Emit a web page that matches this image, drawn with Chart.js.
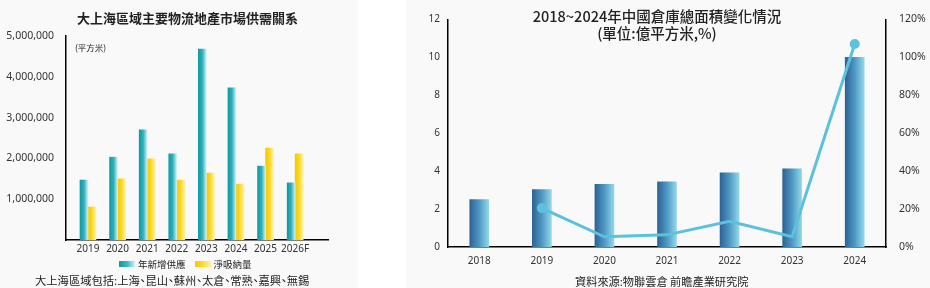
<!DOCTYPE html>
<html>
<head>
<meta charset="utf-8">
<script src="https://cdn.jsdelivr.net/npm/chart.js@4.4.1/dist/chart.umd.min.js"></script>
<style>
  html, body { margin: 0; padding: 0; background: #fff; }
  body { width: 930px; height: 288px; position: relative; overflow: hidden;
         font-family: "Noto Sans CJK TC", "Noto Sans", sans-serif; color: #222; }
  .panel { position: absolute; top: 0; height: 288px; background: #f9f9f9; }
  #left { left: 0; width: 358px; }
  #right { left: 406px; width: 524px; }
  canvas { position: absolute; left: 0; top: 0; }
  .txt { position: absolute; white-space: nowrap; font-feature-settings: "palt"; }
  .legend { position: absolute; top: 257px; left: 119px; font-size: 9.5px; display: flex; align-items: center; }
  .legend span.sw { display: inline-block; width: 16px; height: 6px; margin-right: 3px; }
  .legend span.lb { margin-right: 9px; }
</style>
</head>
<body>
<div class="panel" id="left">
  <canvas id="supplyChart" width="358" height="288"></canvas>
  <div class="txt" style="left:0;width:375px;text-align:center;top:8px;font-size:13px;font-weight:bold;">大上海區域主要物流地產市場供需關系</div>
  <div class="txt" style="left:75px;top:41px;font-size:8.5px;">(平方米)</div>
  <div class="legend">
    <span class="sw" style="background:linear-gradient(to right,#0f9aa4,#3cb6bf,#d3f1f5);"></span><span class="lb">年新增供應</span>
    <span class="sw" style="background:linear-gradient(to right,#f6c800,#fbdc30,#fff3a6);"></span><span class="lb">淨吸納量</span>
  </div>
  <div class="txt" style="left:35px;top:272px;font-size:11.3px;">大上海區域包括:上海、昆山、蘇州、太倉、常熟、嘉興、無錫</div>
</div>
<div class="panel" id="right">
  <canvas id="areaChart" width="524" height="288"></canvas>
  <div class="txt" style="left:0;width:502px;text-align:center;top:7px;font-size:14.5px;line-height:17px;font-weight:500;">2018~2024年中國倉庫總面積變化情況<br>(單位:億平方米,%)</div>
  <div class="txt" style="left:169px;top:273px;font-size:11.2px;">資料來源:物聯雲倉 前瞻產業研究院</div>
</div>
<script>
// 左圖：大上海區域主要物流地產市場供需關系
const supplyYears = ['2019', '2020', '2021', '2022', '2023', '2024', '2025', '2026F'];
const newSupply = [1470000, 2030000, 2700000, 2110000, 4680000, 3730000, 1810000, 1400000];
const netAbsorption = [810000, 1500000, 1990000, 1470000, 1640000, 1370000, 2250000, 2110000];
const supplyLabels = ['年新增供應', '淨吸納量'];

// 右圖：2018~2024年中國倉庫總面積變化情況
const warehouseYears = ['2018', '2019', '2020', '2021', '2022', '2023', '2024'];
const warehouseArea = [2.50, 3.03, 3.30, 3.44, 3.91, 4.12, 10.0];
const areaGrowth = [null, 20.5, 5.4, 6.4, 13.6, 5.4, 107];

const tickFont = { family: 'Noto Sans', size: 10 };
const tickColor = '#333';

function hGradient(ctx, left, right, stops) {
    const g = ctx.createLinearGradient(left, 0, right, 0);
    stops.forEach((c, i) => g.addColorStop(i / (stops.length - 1), c));
    return g;
}

const tealStops = ['#0f9aa4', '#2fb0b9', '#d3f1f5'];
const yellowStops = ['#f6c800', '#fbd826', '#fff3a6'];
const blueStops = ['#2c6395', '#4f98c4', '#92d8ea'];

function pairFill(stops, side) {
    return context => {
        const chart = context.chart;
        if (context.type !== 'data' || !chart.chartArea) return stops[1];
        const c = chart.scales.x.getPixelForValue(context.dataIndex);
        return side < 0 ? hGradient(chart.ctx, c - 8, c, stops) : hGradient(chart.ctx, c, c + 8, stops);
    };
}

new Chart(document.getElementById('supplyChart'), {
    type: 'bar',
    data: {
        datasets: [{
            label: supplyLabels[0],
            data: newSupply.map((v, i) => ({ x: i, y: v })),
            backgroundColor: pairFill(tealStops, -1),
            barThickness: 8
        }, {
            label: supplyLabels[1],
            data: netAbsorption.map((v, i) => ({ x: i, y: v })),
            backgroundColor: pairFill(yellowStops, 1),
            barThickness: 8
        }]
    },
    options: {
        responsive: false,
        animation: false,
        layout: { padding: { top: 36, right: 30, bottom: 28, left: 0 } },
        scales: {
            x: {
                type: 'linear',
                offset: false,
                min: -0.743,
                max: 8.11,
                grid: { display: false, drawTicks: false },
                border: { display: true, color: '#000', width: 1.5 },
                afterBuildTicks: scale => {
                    scale.ticks = supplyYears.map((y, i) => ({ value: i }));
                },
                afterFit: scale => { scale.height = 20; },
                ticks: {
                    padding: 3,
                    autoSkip: false,
                    maxRotation: 0,
                    minRotation: 0,
                    font: tickFont,
                    color: tickColor,
                    callback: v => supplyYears[v] ?? ''
                }
            },
            y: {
                min: 0,
                max: 5000000,
                grid: { display: false, drawTicks: false },
                border: { display: true, color: '#000', width: 1.5 },
                afterFit: scale => { scale.width = 66; },
                ticks: {
                    stepSize: 1000000,
                    padding: 12,
                    font: { family: 'Noto Sans', size: 10.5 },
                    color: tickColor,
                    callback: v => v === 0 ? '' : v.toLocaleString('en-US')
                }
            }
        },
        plugins: {
            legend: { display: false },
            tooltip: { enabled: false }
        }
    }
});

new Chart(document.getElementById('areaChart'), {
    type: 'bar',
    data: {
        labels: warehouseYears,
        datasets: [{
            type: 'line',
            label: '增長率',
            data: areaGrowth,
            yAxisID: 'y1',
            borderColor: '#5cc1dc',
            backgroundColor: '#5cc1dc',
            borderWidth: 3,
            pointRadius: areaGrowth.map((v, i) => (i === 1 || i === areaGrowth.length - 1) ? 3.5 : 0),
            tension: 0,
            order: 0
        }, {
            label: '倉庫總面積',
            data: warehouseArea,
            yAxisID: 'y',
            barThickness: 19,
            order: 1,
            backgroundColor: context => {
                const chart = context.chart;
                if (context.type !== 'data' || !chart.chartArea) return blueStops[1];
                const c = chart.scales.x.getPixelForValue(context.dataIndex);
                return hGradient(chart.ctx, c - 9.5, c + 9.5, blueStops);
            }
        }]
    },
    options: {
        responsive: false,
        animation: false,
        layout: { padding: { top: 17, right: 0, bottom: 21, left: 0 } },
        scales: {
            x: {
                grid: { display: false, drawTicks: false },
                border: { display: true, color: '#000', width: 1.5 },
                afterFit: scale => { scale.height = 20; },
                ticks: { padding: 8, font: tickFont, color: tickColor }
            },
            y: {
                position: 'left',
                min: 0,
                max: 12,
                grid: { display: false, drawTicks: false },
                border: { display: true, color: '#000', width: 1.5 },
                afterFit: scale => { scale.width = 42; },
                ticks: { stepSize: 2, padding: 8, font: tickFont, color: tickColor }
            },
            y1: {
                position: 'right',
                min: 0,
                max: 120,
                grid: { display: false, drawTicks: false },
                border: { display: true, color: '#000', width: 1.5 },
                afterFit: scale => { scale.width = 44; },
                ticks: {
                    stepSize: 20,
                    padding: 13,
                    font: { family: 'Noto Sans', size: 10.5 },
                    color: tickColor,
                    callback: v => v + '%'
                }
            }
        },
        plugins: {
            legend: { display: false },
            tooltip: { enabled: false }
        }
    }
});
</script>
</body>
</html>
